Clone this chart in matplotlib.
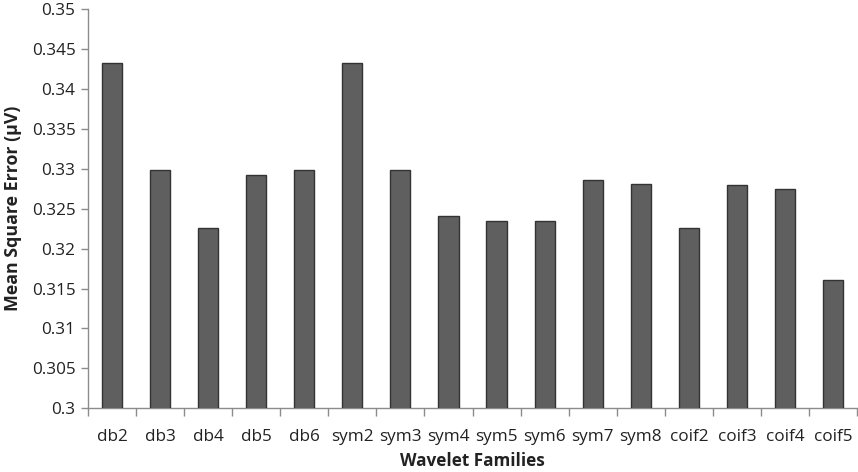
import matplotlib
matplotlib.use("Agg")
import matplotlib.pyplot as plt
import numpy as np

categories = ["db2", "db3", "db4", "db5", "db6", "sym2", "sym3", "sym4",
              "sym5", "sym6", "sym7", "sym8", "coif2", "coif3", "coif4", "coif5"]
mse_values = [0.3432, 0.3298, 0.3226, 0.3292, 0.3298, 0.3432, 0.3298, 0.3241,
              0.3234, 0.3235, 0.3286, 0.3281, 0.3226, 0.3280, 0.3275, 0.3161]
y_ticks = [0.3, 0.305, 0.31, 0.315, 0.32, 0.325, 0.33, 0.335, 0.34, 0.345, 0.35]
y_tick_labels = ["0.3", "0.305", "0.31", "0.315", "0.32", "0.325", "0.33",
                 "0.335", "0.34", "0.345", "0.35"]

plt.rcParams['font.family'] = ['Open Sans', 'DejaVu Sans']

fig = plt.figure(figsize=(8.58, 4.72), dpi=100)
ax = fig.add_axes([88/858, 1 - 408.3/472, 769/858, (408.3 - 9)/472])

x = np.arange(len(categories))
ax.bar(x, mse_values, width=0.42, color="#5f5f5f", edgecolor="#333333",
       linewidth=1.0, zorder=3)

ax.set_ylim(0.3, 0.35)
ax.set_xlim(-0.5, len(categories) - 0.5)
ax.set_yticks(y_ticks)
ax.set_yticklabels(y_tick_labels)

# category labels at centers, tick marks at boundaries
ax.set_xticks(x)
ax.set_xticklabels(categories)
ax.tick_params(axis='x', which='major', length=0, pad=15, labelsize=12.3,
               labelcolor="#222222")
ax.set_xticks(np.arange(-0.5, len(categories)), minor=True)
ax.tick_params(axis='x', which='minor', length=6, width=1, color="#8c8c8c")
ax.tick_params(axis='y', length=5, width=1, color="#8c8c8c", labelsize=12.3,
               labelcolor="#222222", pad=4)

for s in ["top", "right"]:
    ax.spines[s].set_visible(False)
for s in ["left", "bottom"]:
    ax.spines[s].set_color("#8c8c8c")
    ax.spines[s].set_linewidth(1)

ax.set_ylabel("Mean Square Error (µV)", fontsize=12.8, fontweight="bold",
              color="#222222", labelpad=7)
ax.set_xlabel("Wavelet Families", fontsize=12.3, fontweight="bold",
              color="#222222", labelpad=5)

fig.savefig("out.png", dpi=100)
